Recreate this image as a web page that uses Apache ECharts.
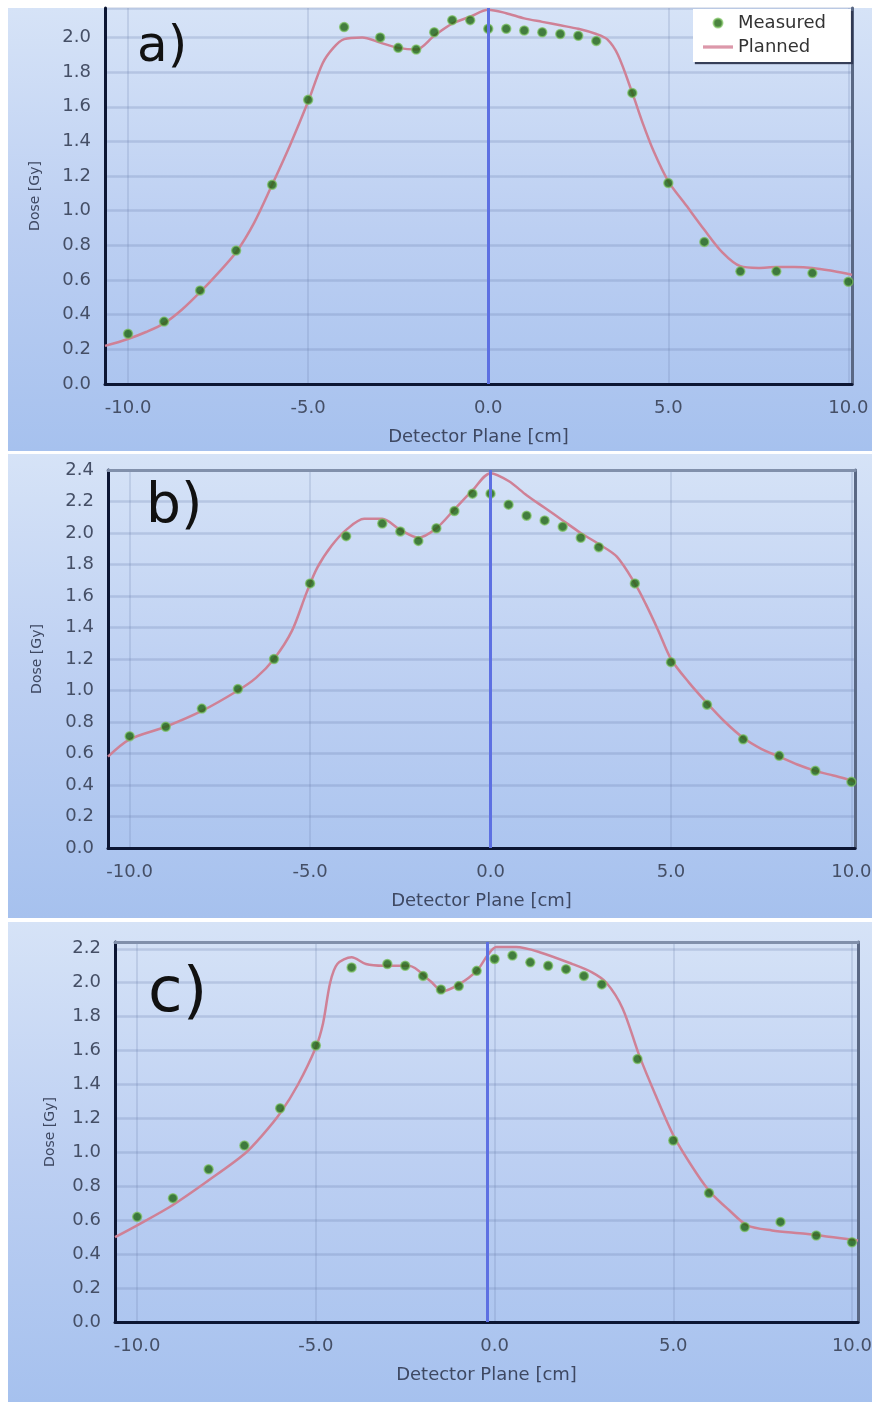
<!DOCTYPE html>
<html>
<head>
<meta charset="utf-8">
<script src="https://cdn.jsdelivr.net/npm/echarts@6/dist/echarts.min.js"></script>
<style>
  html, body { margin: 0; padding: 0; background: #ffffff; }
  #chart { width: 875px; height: 1408px; }
</style>
</head>
<body>
<div id="chart"></div>
<script>
// Detector positions of the measured points [cm] (same for all three profiles)
const measX = [-10, -9, -8, -7, -6, -5, -4, -3, -2.5, -2, -1.5, -1, -0.5, 0, 0.5, 1, 1.5, 2, 2.5, 3, 4, 5, 6, 7, 8, 9, 10];

// Measured dose [Gy]
const measA = [0.29, 0.36, 0.54, 0.77, 1.15, 1.64, 2.06, 2.00, 1.94, 1.93, 2.03, 2.10, 2.10, 2.05, 2.05, 2.04, 2.03, 2.02, 2.01, 1.98, 1.68, 1.16, 0.82, 0.65, 0.65, 0.64, 0.59];
const measB = [0.71, 0.77, 0.885, 1.01, 1.20, 1.68, 1.98, 2.06, 2.01, 1.95, 2.03, 2.14, 2.25, 2.25, 2.18, 2.11, 2.08, 2.04, 1.97, 1.91, 1.68, 1.18, 0.91, 0.69, 0.585, 0.49, 0.42];
const measC = [0.62, 0.73, 0.90, 1.04, 1.26, 1.63, 2.09, 2.11, 2.10, 2.04, 1.96, 1.98, 2.07, 2.14, 2.16, 2.12, 2.10, 2.08, 2.04, 1.99, 1.55, 1.07, 0.76, 0.56, 0.59, 0.51, 0.47];

// Planned dose profiles: positions [cm] and dose [Gy]
const planXA = [-10.64, -10, -9.5, -9, -8.5, -8, -7.5, -7, -6.5, -6, -5.5, -5, -4.6, -4.3, -4, -3.5, -3, -2.5, -2, -1.5, -1, -0.5, 0, 0.5, 1, 1.5, 2, 2.5, 3, 3.3, 3.6, 4, 4.3, 4.6, 5, 5.5, 6, 6.5, 7, 7.5, 8, 8.5, 9, 9.5, 10, 10.1];
const planYA = [0.22, 0.26, 0.30, 0.35, 0.43, 0.53, 0.64, 0.76, 0.93, 1.15, 1.38, 1.63, 1.85, 1.94, 1.99, 2.00, 1.97, 1.94, 1.93, 2.01, 2.08, 2.12, 2.16, 2.14, 2.11, 2.09, 2.07, 2.05, 2.02, 1.99, 1.90, 1.68, 1.50, 1.34, 1.17, 1.03, 0.89, 0.76, 0.68, 0.67, 0.675, 0.675, 0.67, 0.655, 0.635, 0.63];

const planXB = [-10.6, -10, -9, -8, -7, -6.5, -6, -5.5, -5.1, -4.8, -4.4, -4, -3.5, -3, -2.5, -2, -1.5, -1, -0.5, 0, 0.5, 1, 1.5, 2, 2.5, 3, 3.5, 4, 4.3, 4.65, 5, 5.5, 6, 6.5, 7, 7.5, 8, 8.5, 9, 9.5, 10, 10.1];
const planYB = [0.58, 0.69, 0.77, 0.87, 1.00, 1.08, 1.20, 1.38, 1.62, 1.78, 1.92, 2.02, 2.09, 2.09, 2.02, 1.97, 2.03, 2.15, 2.27, 2.38, 2.33, 2.24, 2.16, 2.08, 2.00, 1.93, 1.85, 1.68, 1.55, 1.38, 1.20, 1.05, 0.92, 0.80, 0.70, 0.63, 0.58, 0.53, 0.49, 0.46, 0.43, 0.42];

const planXC = [-10.62, -10, -9, -8, -7, -6.5, -6, -5.5, -5, -4.8, -4.6, -4.4, -4, -3.6, -3.1, -2.4, -1.8, -1.45, -1, -0.5, -0.2, 0.05, 0.6, 1.26, 2.18, 2.74, 3.13, 3.58, 4.05, 4.5, 5.03, 5.64, 6.06, 6.56, 7.07, 7.76, 8.7, 10.17];
const planYC = [0.50, 0.57, 0.69, 0.835, 0.99, 1.10, 1.23, 1.40, 1.62, 1.76, 2.00, 2.11, 2.15, 2.11, 2.10, 2.10, 2.01, 1.95, 1.99, 2.07, 2.16, 2.21, 2.21, 2.18, 2.11, 2.06, 2.00, 1.85, 1.57, 1.34, 1.09, 0.88, 0.76, 0.66, 0.57, 0.54, 0.52, 0.48];

// Axis extents and the central-axis marker per profile
const panelNames = ['a)', 'b)', 'c)'];
const xRanges = [[-10.64, 10.1], [-10.6, 10.1], [-10.62, 10.17]];
const yMaxes = [2.17, 2.4, 2.24];
const centerX = [0, 0, -0.2];
const legendNames = ['Measured', 'Planned'];

const measured = [measA, measB, measC];
const plannedX = [planXA, planXB, planXC];
const plannedY = [planYA, planYB, planYC];

// Panel layout (pixels)
const grids = [
  { left: 105, top: 8,   width: 747, height: 376 },
  { left: 108, top: 470, width: 747, height: 378 },
  { left: 115, top: 942, width: 744, height: 380 }
];
const panelBoxes = [
  { y: 8,   h: 443 },
  { y: 454, h: 464 },
  { y: 922, h: 480 }
];
const yNameGaps = [63, 64, 58];
const titleBoxes = [
  { left: 137, top: 23,  size: 50 },
  { left: 146, top: 480, size: 55 },
  { left: 148, top: 963, size: 63 }
];

const FONT = 'DejaVu Sans';
const TICK_COLOR = '#454f66';
const zip = (xs, ys) => xs.map((x, i) => [x, ys[i]]);
const fmt = v => v.toFixed(1);

const panelFill = {
  type: 'linear', x: 0, y: 0, x2: 0, y2: 1,
  colorStops: [
    { offset: 0, color: '#d6e3f7' },
    { offset: 0.5, color: '#bccff2' },
    { offset: 1, color: '#a6c1ee' }
  ]
};

const xAxis = [];
const yAxis = [];
const series = [];

grids.forEach((g, i) => {
  const [xmin, xmax] = xRanges[i];
  // bottom axis with labels
  xAxis.push({
    gridIndex: i, type: 'value', min: xmin, max: xmax, splitNumber: 4,
    name: 'Detector Plane [cm]', nameLocation: 'middle', nameGap: 44,
    nameTextStyle: { fontFamily: FONT, fontSize: 18, color: '#3e4862' },
    axisLine: { show: true, onZero: false, lineStyle: { color: '#0c1633', width: 3 } },
    axisTick: { show: false },
    axisLabel: { margin: 15, fontFamily: FONT, fontSize: 18, color: TICK_COLOR, formatter: fmt,
                 showMinLabel: false, showMaxLabel: false },
    splitLine: { show: true, lineStyle: { color: 'rgba(105,125,170,0.2)', width: 2 } }
  });
  // top frame edge (not on the first panel)
  xAxis.push({
    gridIndex: i, type: 'value', position: 'top', min: xmin, max: xmax,
    axisLine: { show: i > 0, onZero: false, lineStyle: { color: '#8190ab', width: 3 } },
    axisTick: { show: false }, axisLabel: { show: false }, splitLine: { show: false }
  });
  // left axis with labels
  yAxis.push({
    gridIndex: i, type: 'value', min: 0, max: yMaxes[i], interval: 0.2,
    name: 'Dose [Gy]', nameLocation: 'middle', nameRotate: 90, nameGap: yNameGaps[i],
    nameTextStyle: { fontFamily: FONT, fontSize: 14, color: '#3e4862' },
    axisLine: { show: true, onZero: false, lineStyle: { color: '#0c1633', width: 3 } },
    axisTick: { show: false },
    axisLabel: { margin: 14, fontFamily: FONT, fontSize: 18, color: TICK_COLOR, formatter: fmt,
                 showMaxLabel: i === 1 },
    splitLine: { show: true, lineStyle: { color: 'rgba(105,125,170,0.25)', width: 2.5 } }
  });
  // right frame edge
  yAxis.push({
    gridIndex: i, type: 'value', position: 'right', min: 0, max: yMaxes[i],
    axisLine: { show: true, onZero: false, lineStyle: { color: '#5a6884', width: 3 } },
    axisTick: { show: false }, axisLabel: { show: false }, splitLine: { show: false }
  });

  const xi = i * 2, yi = i * 2;
  // central axis marker
  series.push({
    type: 'line', name: 'center-' + i, xAxisIndex: xi, yAxisIndex: yi, data: [], z: 2,
    markLine: {
      silent: true, symbol: 'none', animation: false,
      label: { show: false },
      lineStyle: { color: '#5d70e2', width: 3, type: 'solid', opacity: 1 },
      data: [{ xAxis: centerX[i] }]
    }
  });
  series.push({
    type: 'line', name: 'Planned', xAxisIndex: xi, yAxisIndex: yi,
    data: zip(plannedX[i], plannedY[i]),
    symbol: 'none', smooth: 0.3, z: 3,
    lineStyle: { color: '#cf8196', width: 2.5 },
    itemStyle: { color: '#dc98aa' }
  });
  series.push({
    type: 'scatter', name: 'Measured', xAxisIndex: xi, yAxisIndex: yi,
    data: zip(measX, measured[i]),
    symbol: 'circle', symbolSize: 9, z: 4,
    itemStyle: { color: '#1e6410', borderColor: 'rgba(125,195,95,0.85)', borderWidth: 1.5 }
  });
});

const chart = echarts.init(document.getElementById('chart'), null, { renderer: 'canvas' });
chart.setOption({
  animation: false,
  backgroundColor: '#ffffff',
  graphic: panelBoxes.map(p => ({
    type: 'rect', left: 8, top: p.y, z: -10,
    shape: { width: 864, height: p.h },
    style: { fill: panelFill }
  })),
  title: titleBoxes.map((t, i) => ({
    text: panelNames[i], left: t.left, top: t.top, padding: 0,
    textStyle: { fontFamily: FONT, fontSize: t.size, fontWeight: 'normal', color: '#111111' }
  })),
  legend: {
    data: [
      { name: legendNames[0], icon: 'circle' },
      { name: legendNames[1], icon: 'path://M0,0 L32,0 L32,3.5 L0,3.5 Z' }
    ],
    orient: 'vertical', left: 693, top: 9,
    padding: [5, 25, 6, 10], itemGap: 6, itemWidth: 30, itemHeight: 9,
    backgroundColor: '#ffffff', shadowColor: 'rgba(45,55,80,0.95)',
    shadowBlur: 1, shadowOffsetX: 2, shadowOffsetY: 2,
    selectedMode: false,
    textStyle: { fontFamily: FONT, fontSize: 18, color: '#333333' }
  },
  grid: grids.map(g => Object.assign({ containLabel: false }, g)),
  xAxis, yAxis, series
});
</script>
</body>
</html>
